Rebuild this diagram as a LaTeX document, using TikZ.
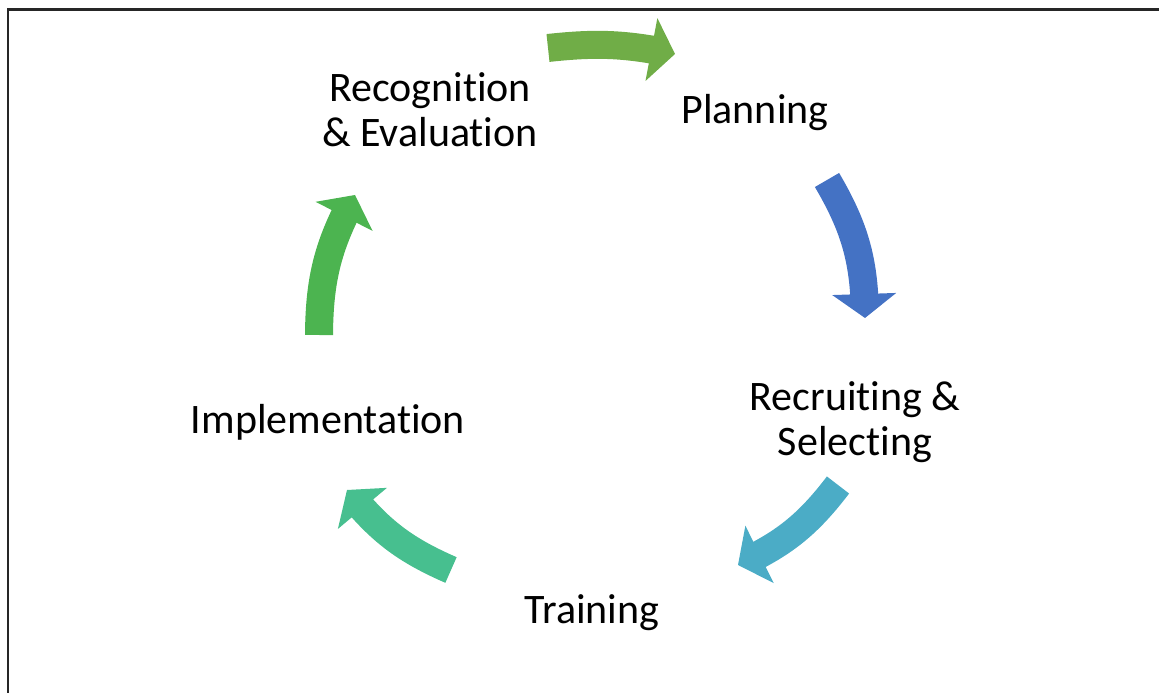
\documentclass[tikz,border=0pt]{standalone}
\usepackage{fontspec}
\setmainfont[Ligatures=NoCommon]{Carlito}
\usetikzlibrary{arrows.meta,bending}
\definecolor{cOlive}{HTML}{70AD47}
\definecolor{cBlue}{HTML}{4472C4}
\definecolor{cTeal}{HTML}{4BACC6}
\definecolor{cMint}{HTML}{47BF8F}
\definecolor{cGreen}{HTML}{4CB450}
\tikzset{
  lbl/.style={font=\fontsize{42}{45}\selectfont, align=center, text=black, inner sep=0pt},
  cyclearrow/.style={line width=28pt, draw=#1,
     -{Triangle[width=64pt,length=24pt,line width=0pt,color=#1]}},
  frameline/.style={line width=2.5pt, draw=black!85}
}
\begin{document}
\begin{tikzpicture}[x=1pt,y=1pt]
\useasboundingbox (0,0) rectangle (1159,693);
\draw[frameline] (8,0) -- (8,683.5) -- (1159,683.5);

\node[lbl] (rec) at (430,583) {Recognition\\\& Evaluation};
\node[lbl] (plan) at (755,580) {Planning};
\node[lbl] (recr) at (855,271) {Recruiting \&\\Selecting};
\node[lbl] (train) at (592,80) {Training};
\node[lbl] (impl) at (328,271) {Implementation};

\coordinate (a1s) at (548,645); \coordinate (a1e) at (675,639);
\coordinate (a2s) at (827,513); \coordinate (a2e) at (865,375);
\coordinate (a3s) at (838,208); \coordinate (a3e) at (738,128);
\coordinate (a4s) at (451,123); \coordinate (a4e) at (347,203);
\coordinate (a5s) at (319,358); \coordinate (a5e) at (355,498);

\draw[cyclearrow=cOlive] (a1s) to[bend left=9] (a1e);
\draw[cyclearrow=cBlue] (a2s) to[bend left=15] (a2e);
\draw[cyclearrow=cTeal] (a3s) to[bend left=14] (a3e);
\draw[cyclearrow=cMint] (a4s) to[bend left=14] (a4e);
\draw[cyclearrow=cGreen] (a5s) to[bend left=14] (a5e);
\end{tikzpicture}
\end{document}
